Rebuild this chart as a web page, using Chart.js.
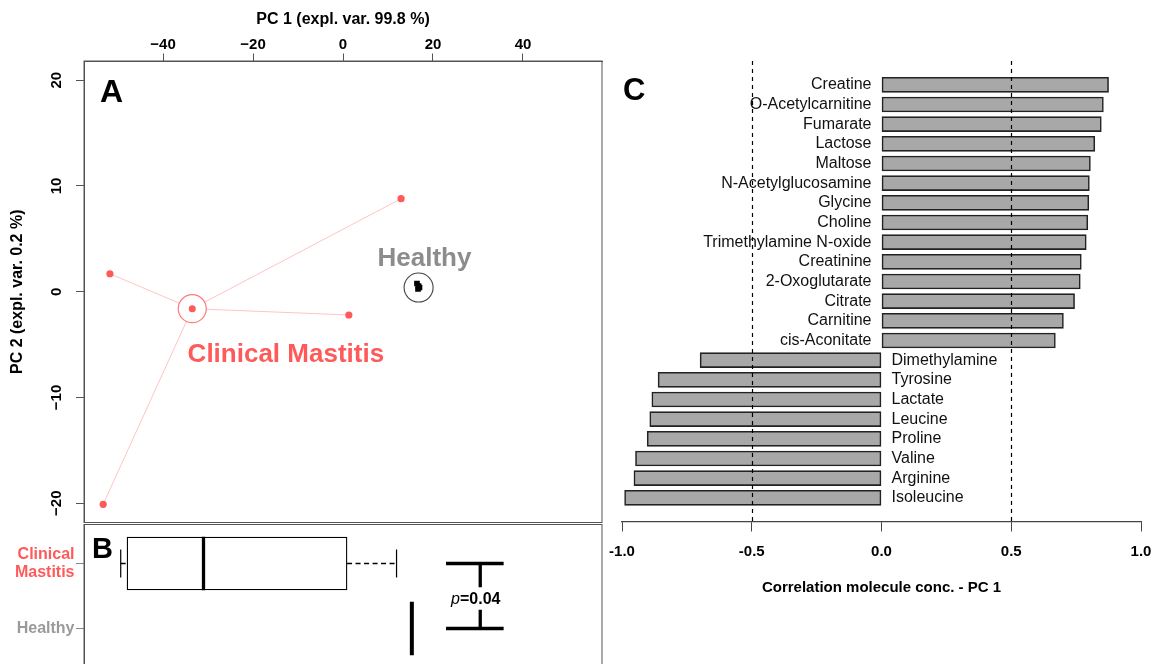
<!DOCTYPE html>
<html>
<head>
<meta charset="utf-8">
<script src="https://cdn.jsdelivr.net/npm/chart.js@4.4.1/dist/chart.umd.min.js"></script>
<style>
  html, body { margin: 0; padding: 0; background: #fff; overflow: hidden; width: 1156px; height: 664px; }
  canvas { position: absolute; }
  #pca { left: 0; top: 0; }
  #box { left: 0; top: 523px; }
  #corr { left: 603px; top: 0; }
</style>
</head>
<body>
<canvas id="pca" width="603" height="524"></canvas>
<canvas id="box" width="603" height="190"></canvas>
<canvas id="corr" width="553" height="664"></canvas>
<script>
/* ---------- data ---------- */

// A: PCA scores
const pc1Ticks = [-40, -20, 0, 20, 40];
const pc2Ticks = [-20, -10, 0, 10, 20];
const cmPC1 = [12.9, -51.8, 1.3, -53.3];
const cmPC2 = [8.8, 1.7, -2.2, -20.1];
const cmCenter = [-33.5, -1.6];
const healthyPC1 = [16.44, 16.78, 16.67, 17.0];
const healthyPC2 = [0.78, 0.54, 0.26, 0.40];
const healthyCenter = [16.8, 0.4];

// B: PC1 boxplot (min, q1, median, q3, max)
const groupNames = [["Clinical", "Mastitis"], "Healthy"];
const groupPos = [2, 1];
const cmBox = [-49.4, -48.0, -31.0, 0.9, 11.9];
const healthyBox = [15.3, 15.3, 15.3, 15.3, 15.3];
const bracketX = [22.9, 35.7];
const pLabel = "0.04";

// C: correlation with PC 1
const molecules = [
  "Creatine", "O-Acetylcarnitine", "Fumarate", "Lactose", "Maltose",
  "N-Acetylglucosamine", "Glycine", "Choline", "Trimethylamine N-oxide",
  "Creatinine", "2-Oxoglutarate", "Citrate", "Carnitine", "cis-Aconitate",
  "Dimethylamine", "Tyrosine", "Lactate", "Leucine", "Proline", "Valine",
  "Arginine", "Isoleucine"
];
const corrValues = [
  0.875, 0.855, 0.847, 0.822, 0.805, 0.801, 0.799, 0.795, 0.789, 0.770,
  0.766, 0.744, 0.701, 0.670,
  -0.699, -0.861, -0.885, -0.893, -0.903, -0.948, -0.954, -0.990
];
const corrTicks = [-1, -0.5, 0, 0.5, 1];
const corrRefLines = [-0.5, 0.5];

/* ---------- look ---------- */

const FONT = "'Liberation Sans', Arial, sans-serif";
Chart.defaults.font.family = FONT;
const RED = "#ff5a5a";
const PINK = "#ffc4c4";
const GREY = "#8c8c8c";
const FRAME = "#555";

const minus = v => (v < 0 ? "\u2212" + Math.abs(v) : String(v));
const pt = (x, y) => ({ x, y });
const setTicks = vals => s => { s.ticks = vals.map(v => ({ value: v })); };
// fixed axis box, no extra padding for edge labels
const fixH = h => s => { s.height = h; s.paddingLeft = 0; s.paddingRight = 0; };
const fixW = w => s => { s.width = w; s.paddingTop = 0; s.paddingBottom = 0; };

const PC_X = 57.56, PC_Y = 21.82;
const base = {
  responsive: false, animation: false, devicePixelRatio: 1, events: [],
  plugins: { legend: { display: false }, tooltip: { enabled: false } }
};

/* ================= A ================= */

const pcaDecor = {
  id: "pcaDecor",
  afterDatasetsDraw(chart) {
    const { ctx, chartArea: a, scales: { x, y } } = chart;
    ctx.save();
    ctx.strokeStyle = FRAME; ctx.lineWidth = 1;
    ctx.strokeRect(a.left, a.top, a.right - a.left, a.bottom - a.top);

    ctx.font = "bold 26px " + FONT;
    ctx.textAlign = "center"; ctx.textBaseline = "alphabetic";
    ctx.fillStyle = GREY;
    ctx.fillText("Healthy", x.getPixelForValue(18.1), y.getPixelForValue(2.43));
    ctx.fillStyle = RED;
    ctx.fillText("Clinical Mastitis", x.getPixelForValue(-12.7), y.getPixelForValue(-6.61));

    ctx.fillStyle = "#000";
    ctx.font = "bold 32px " + FONT;
    ctx.textAlign = "left";
    ctx.fillText("A", a.left + 16, a.top + 41);

    // R style rotated y tick labels
    ctx.font = "bold 15px " + FONT;
    ctx.textAlign = "center"; ctx.textBaseline = "middle";
    y.ticks.forEach(t => {
      ctx.save();
      ctx.translate(a.left - 27, y.getPixelForValue(t.value));
      ctx.rotate(-Math.PI / 2);
      ctx.fillText(minus(t.value), 0, 0);
      ctx.restore();
    });
    ctx.restore();
  }
};

const cmPoints = cmPC1.map((v, i) => pt(v, cmPC2[i]));
const healthyPoints = healthyPC1.map((v, i) => pt(v, healthyPC2[i]));
const cmC = pt(cmCenter[0], cmCenter[1]);
const hC = pt(healthyCenter[0], healthyCenter[1]);

const spokes = cmPoints.map(p => ({
  data: [cmC, p], showLine: true, borderColor: PINK, borderWidth: 1,
  pointRadius: 0, order: 3
}));

new Chart(document.getElementById("pca"), {
  type: "scatter",
  data: {
    datasets: [
      { data: [cmC], pointRadius: 3.5, backgroundColor: RED, borderWidth: 0, order: 0 },
      { data: healthyPoints, pointStyle: "rect", pointRadius: 4, backgroundColor: "#000", borderWidth: 0, order: 0 },
      { data: [cmC], pointRadius: 14, backgroundColor: "#fff", borderColor: "#ff7a7a", borderWidth: 1.2, order: 1 },
      { data: [hC], pointRadius: 14.5, backgroundColor: "#fff", borderColor: "#444", borderWidth: 1.1, order: 1 },
      { data: cmPoints, pointRadius: 3.6, backgroundColor: RED, borderWidth: 0, order: 2 },
      ...spokes
    ]
  },
  options: {
    ...base,
    layout: { autoPadding: false, padding: { right: 1, bottom: 1.5 } },
    scales: {
      x: {
        type: "linear", position: "top", min: -PC_X, max: PC_X,
        afterBuildTicks: setTicks(pc1Ticks),
        afterFit: fixH(61),
        grid: { drawOnChartArea: false, tickLength: 7.5, color: FRAME },
        border: { color: FRAME, width: 1 },
        ticks: { color: "#000", font: { size: 15, weight: "bold" }, padding: 0, maxRotation: 0, callback: minus },
        title: { display: true, text: "PC 1 (expl. var. 99.8 %)", color: "#000",
                 font: { size: 16, weight: "bold" }, padding: { top: 10, bottom: 0 } }
      },
      y: {
        type: "linear", min: -PC_Y, max: PC_Y,
        afterBuildTicks: setTicks(pc2Ticks),
        afterFit: fixW(84),
        grid: { drawOnChartArea: false, tickLength: 8, color: FRAME },
        border: { color: FRAME, width: 1 },
        ticks: { display: false },
        title: { display: true, text: "PC 2 (expl. var. 0.2 %)", color: "#000",
                 font: { size: 16, weight: "bold" }, padding: { top: 8, bottom: 0 } }
      }
    }
  },
  plugins: [pcaDecor]
});

/* ================= B ================= */

const BOX_HALF = 0.41, CAP_HALF = 0.215;

function seg(a, b, width, dash) {
  return { type: "line", data: [a, b], borderColor: "#000", borderWidth: width,
           borderDash: dash || [], pointRadius: 0, fill: false, order: 0 };
}

const boxDecor = {
  id: "boxDecor",
  afterDatasetsDraw(chart) {
    const { ctx, chartArea: a, scales: { x, y } } = chart;
    ctx.save();
    ctx.strokeStyle = FRAME; ctx.lineWidth = 1;
    ctx.strokeRect(a.left, a.top, a.right - a.left, a.bottom - a.top);

    ctx.fillStyle = "#000";
    ctx.font = "bold 29px " + FONT;
    ctx.textBaseline = "alphabetic"; ctx.textAlign = "left";
    ctx.fillText("B", a.left + 8, a.top + 33);

    // p value between the two groups
    const px = x.getPixelForValue(29.5), py = y.getPixelForValue(1.45);
    ctx.textBaseline = "middle";
    ctx.font = "italic 16px " + FONT;
    const pw = ctx.measureText("p").width;
    ctx.font = "bold 16px " + FONT;
    const rest = "=" + pLabel;
    const rw = ctx.measureText(rest).width;
    const x0 = px - (pw + rw) / 2;
    ctx.font = "italic 16px " + FONT;
    ctx.fillText("p", x0, py);
    ctx.font = "bold 16px " + FONT;
    ctx.fillText(rest, x0 + pw, py);
    ctx.restore();
  }
};

const cmY = groupPos[0], hY = groupPos[1];
const bx = (bracketX[0] + bracketX[1]) / 2 + 1.2;

new Chart(document.getElementById("box"), {
  type: "bar",
  data: {
    datasets: [
      { type: "bar", data: [{ x: [cmBox[1], cmBox[3]], y: cmY }], backgroundColor: "#fff",
        borderColor: "#000", borderWidth: 1.3, borderSkipped: false, barThickness: 53, order: 1 },
      seg(pt(cmBox[2], cmY - BOX_HALF), pt(cmBox[2], cmY + BOX_HALF), 3.3),
      seg(pt(cmBox[0], cmY), pt(cmBox[1], cmY), 1.4, [5, 3.5]),
      seg(pt(cmBox[3], cmY), pt(cmBox[4], cmY), 1.4, [5, 3.5]),
      seg(pt(cmBox[0], cmY - CAP_HALF), pt(cmBox[0], cmY + CAP_HALF), 1.2),
      seg(pt(cmBox[4], cmY - CAP_HALF), pt(cmBox[4], cmY + CAP_HALF), 1.2),
      seg(pt(healthyBox[2], hY - BOX_HALF), pt(healthyBox[2], hY + BOX_HALF), 4),
      seg(pt(bracketX[0], cmY), pt(bracketX[1], cmY), 3.7),
      seg(pt(bracketX[0], hY), pt(bracketX[1], hY), 3.7),
      seg(pt(bx, cmY), pt(bx, 1.635), 3.3),
      seg(pt(bx, 1.29), pt(bx, hY), 3.3)
    ]
  },
  options: {
    ...base,
    indexAxis: "y",
    layout: { autoPadding: false, padding: { top: 1.5, right: 1 } },
    scales: {
      x: { type: "linear", min: -PC_X, max: PC_X, display: false },
      y: {
        type: "linear", min: -0.3, max: 2.6, offset: false,
        afterBuildTicks: setTicks(groupPos),
        afterFit: fixW(84),
        grid: { drawOnChartArea: false, offset: false, tickLength: 8, color: "#888" },
        border: { color: FRAME, width: 1 },
        ticks: {
          padding: 1.5,
          font: { size: 16, weight: "bold", lineHeight: 1.15 },
          color: c => (c.tick && c.tick.value === cmY ? RED : "#9a9a9a"),
          callback: v => groupNames[groupPos.indexOf(v)]
        }
      }
    }
  },
  plugins: [boxDecor]
});

/* ================= C ================= */

const corrDecor = {
  id: "corrDecor",
  afterDatasetsDraw(chart) {
    const { ctx, chartArea: a, scales: { x, y } } = chart;
    const x0 = x.getPixelForValue(0);
    ctx.save();
    ctx.fillStyle = "#111";
    ctx.font = "16px " + FONT;
    ctx.textBaseline = "middle";
    molecules.forEach((m, i) => {
      const py = y.getPixelForValue(i);
      if (corrValues[i] >= 0) { ctx.textAlign = "right"; ctx.fillText(m, x0 - 10, py); }
      else { ctx.textAlign = "left"; ctx.fillText(m, x0 + 10, py); }
    });

    ctx.strokeStyle = "#000"; ctx.lineWidth = 1.2; ctx.setLineDash([4, 4]);
    corrRefLines.forEach(v => {
      const px = Math.round(x.getPixelForValue(v)) + 0.5;
      ctx.beginPath(); ctx.moveTo(px, a.top); ctx.lineTo(px, a.bottom); ctx.stroke();
    });
    ctx.setLineDash([]);

    ctx.fillStyle = "#000";
    ctx.font = "bold 31px " + FONT;
    ctx.textAlign = "left"; ctx.textBaseline = "alphabetic";
    ctx.fillText("C", a.left + 1, a.top + 39);
    ctx.restore();
  }
};

new Chart(document.getElementById("corr"), {
  type: "bar",
  data: {
    datasets: [{
      data: molecules.map((m, i) => ({ x: corrValues[i], y: i })),
      backgroundColor: "#a8a8a8", borderColor: "#222", borderWidth: 1.6,
      borderSkipped: false, barThickness: 15
    }]
  },
  options: {
    ...base,
    indexAxis: "y",
    layout: { autoPadding: false, padding: { left: 19, right: 15, top: 61 } },
    scales: {
      x: {
        type: "linear", min: -1, max: 1,
        afterBuildTicks: setTicks(corrTicks),
        afterFit: fixH(142),
        grid: { drawOnChartArea: false, tickLength: 9.5, color: "#444" },
        border: { color: "#444", width: 1.2 },
        ticks: { color: "#000", font: { size: 15, weight: "bold" }, padding: 11, maxRotation: 0,
                 callback: v => v.toFixed(1) },
        title: { display: true, text: "Correlation molecule conc. - PC 1", color: "#000",
                 font: { size: 15, weight: "bold" }, padding: { top: 0, bottom: 67 } }
      },
      y: { type: "linear", reverse: true, min: -1.21, max: 22.23, offset: false, display: false }
    }
  },
  plugins: [corrDecor]
});
</script>
</body>
</html>
